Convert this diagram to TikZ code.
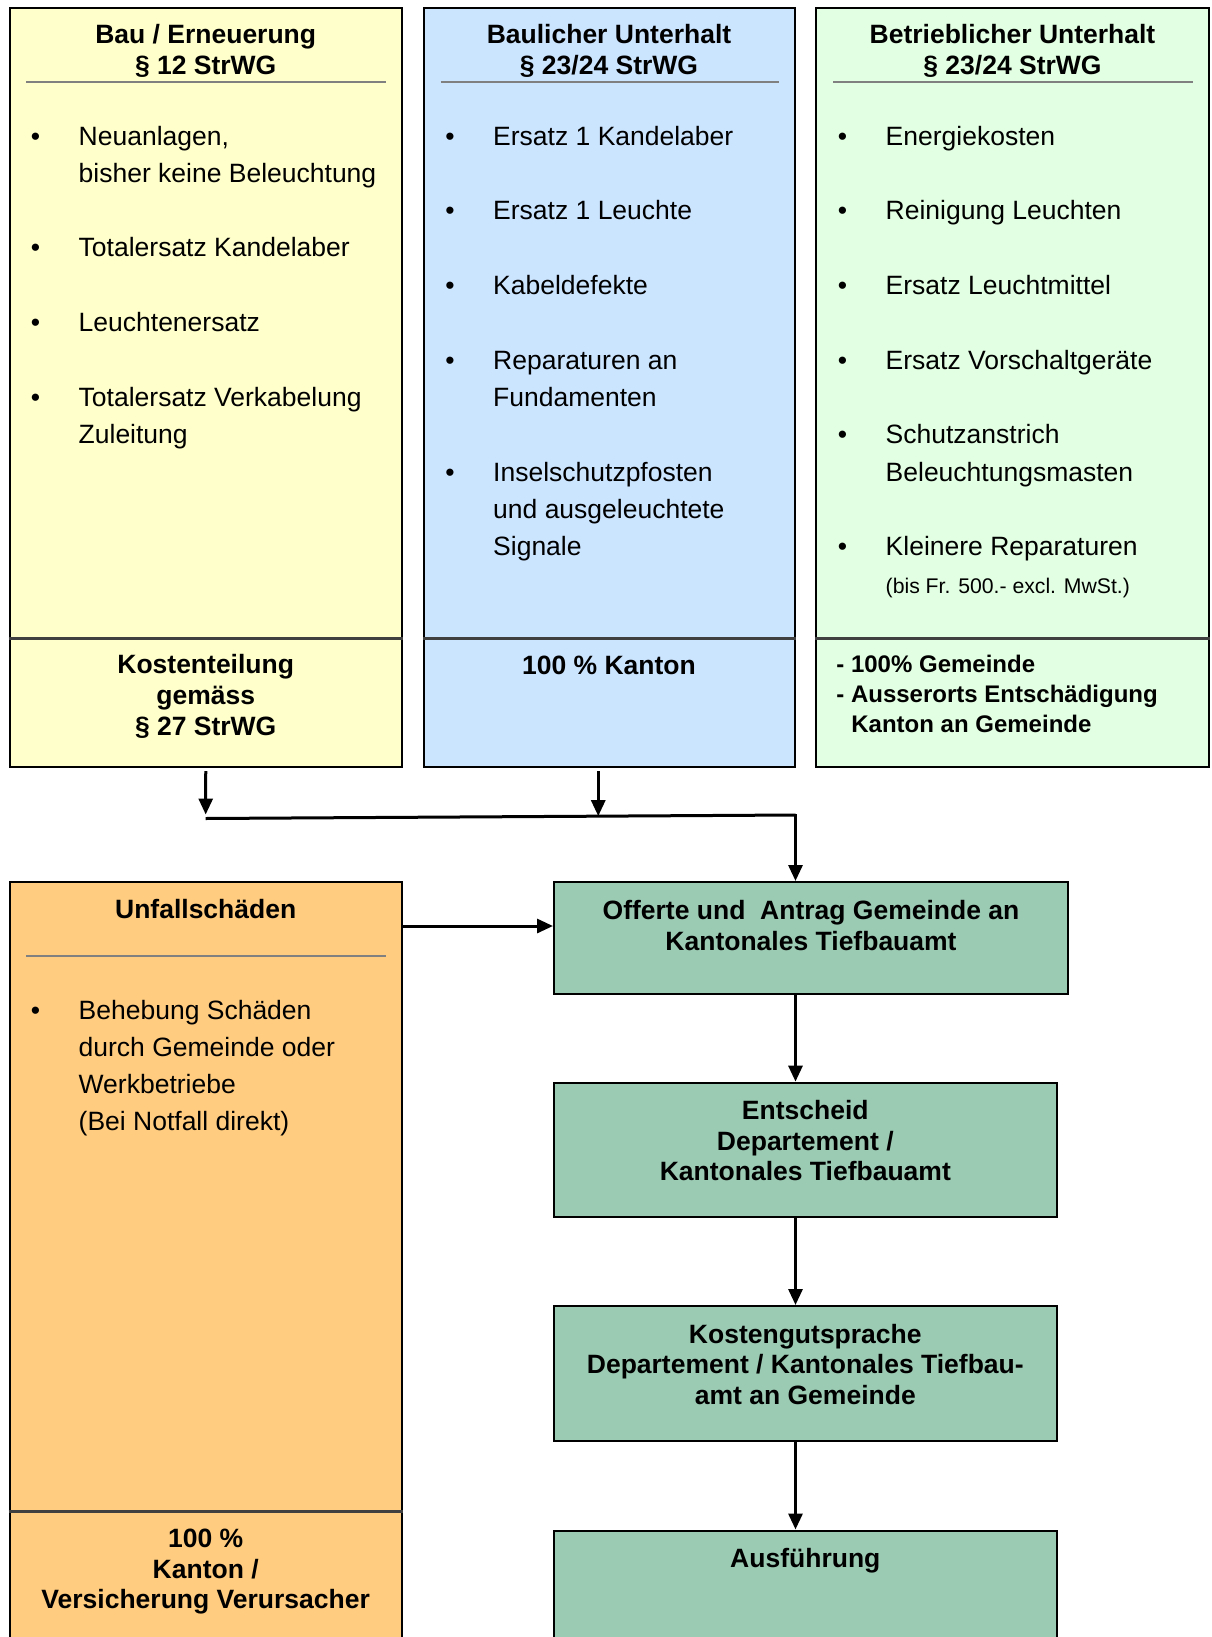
\documentclass[tikz,border=0pt]{standalone}
\usepackage{fontspec}
\setmainfont{Liberation Sans}
\usetikzlibrary{arrows.meta,fit}
\definecolor{cyel}{HTML}{FFFFCC}
\definecolor{cblu}{HTML}{CCE5FF}
\definecolor{cgrn}{HTML}{E3FFE3}
\definecolor{corg}{HTML}{FFCC80}
\definecolor{ctea}{HTML}{9CCBB4}
\tikzset{
  cbox/.style={draw=black, line width=1pt, inner sep=0pt},
  hd/.style={font=\bfseries\fontsize{13.25}{15.3}\selectfont, align=center, anchor=base, inner sep=0pt},
  hdl/.style={font=\bfseries\fontsize{12}{14.9}\selectfont, align=left, anchor=base west, inner sep=0pt},
  itm/.style={font=\fontsize{13.25}{18.6}\selectfont, align=left, anchor=base west, inner sep=0pt},
  smallitm/.style={font=\fontsize{10.6}{13}\selectfont, anchor=base west, inner sep=0pt},
  bul/.style={font=\fontsize{13.25}{18.6}\selectfont, anchor=base, inner sep=0pt},
  hrule/.style={draw=black!50, line width=1pt},
  seprule/.style={draw=black!75, line width=1.5pt},
  conn/.style={line width=1.5pt},
  arr/.style={conn, -{Triangle[width=7pt,length=8pt]}},
}
\begin{document}
% note: for multi-line nodes the base anchor is the LAST line's baseline
\begin{tikzpicture}[x=0.5pt,y=-0.5pt]
\useasboundingbox (0,0) rectangle (1211,1637);
\clip (0,0) rectangle (1211,1637);
% ---------- top columns ----------
\node[cbox, fill=cyel, fit={(9.5,8.5) (402,767)}] (bau) {};
\node[cbox, fill=cblu, fit={(424,8.5) (794.5,767)}] (bu) {};
\node[cbox, fill=cgrn, fit={(816,8.5) (1209,767)}] (be) {};
\draw[seprule] (bau.west |- 0,638) -- (bau.east |- 0,638);
\draw[seprule] (bu.west |- 0,638) -- (bu.east |- 0,638);
\draw[seprule] (be.west |- 0,638) -- (be.east |- 0,638);
\draw[hrule] (26,82.5) -- (386,82.5);
\draw[hrule] (440.5,82.5) -- (779,82.5);
\draw[hrule] (833,82.5) -- (1193,82.5);
% headings
\node[hd] (hbau) at (205.7,74.4) {Bau / Erneuerung\\§ 12 StrWG};
\node[hd] (hbu) at (609,74.4) {Baulicher Unterhalt\\§ 23/24 StrWG};
\node[hd] (hbe) at (1012.5,74.4) {Betrieblicher Unterhalt\\§ 23/24 StrWG};
% yellow items
\node[bul] (yb1) at (35.5,145.2) {•};
\node[itm] (yi1) at (78.3,182.4) {Neuanlagen,\\bisher keine Beleuchtung};
\node[bul] (yb2) at (35.5,256.9) {•};
\node[itm] (yi2) at (78.3,256.9) {Totalersatz Kandelaber};
\node[bul] (yb3) at (35.5,331) {•};
\node[itm] (yi3) at (78.3,331) {Leuchtenersatz};
\node[bul] (yb4) at (35.5,406.2) {•};
\node[itm] (yi4) at (78.3,443.4) {Totalersatz Verkabelung\\Zuleitung};
% blue items
\node[bul] (bb1) at (450,145.2) {•};
\node[itm] (bi1) at (492.8,145.2) {Ersatz 1 Kandelaber};
\node[bul] (bb2) at (450,219.3) {•};
\node[itm] (bi2) at (492.8,219.3) {Ersatz 1 Leuchte};
\node[bul] (bb3) at (450,294.5) {•};
\node[itm] (bi3) at (492.8,294.5) {Kabeldefekte};
\node[bul] (bb4) at (450,369.7) {•};
\node[itm] (bi4) at (492.8,406.9) {Reparaturen an\\Fundamenten};
\node[bul] (bb5) at (450,481.4) {•};
\node[itm] (bi5) at (492.8,555.8) {Inselschutzpfosten\\und ausgeleuchtete\\Signale};
% green items
\node[bul] (gb1) at (842.5,145.2) {•};
\node[itm] (gi1) at (885.3,145.2) {Energiekosten};
\node[bul] (gb2) at (842.5,219.3) {•};
\node[itm] (gi2) at (885.3,219.3) {Reinigung Leuchten};
\node[bul] (gb3) at (842.5,294.5) {•};
\node[itm] (gi3) at (885.3,294.5) {Ersatz Leuchtmittel};
\node[bul] (gb4) at (842.5,369.7) {•};
\node[itm] (gi4) at (885.3,369.7) {Ersatz Vorschaltgeräte};
\node[bul] (gb5) at (842.5,443.8) {•};
\node[itm] (gi5) at (885.3,481) {Schutzanstrich\\Beleuchtungsmasten};
\node[bul] (gb6) at (842.5,555.5) {•};
\node[itm] (gi6) at (885.3,555.5) {Kleinere Reparaturen};
\node[smallitm] (gi7) at (885.3,593) {(bis Fr. 500.- excl. MwSt.)};
% footers
\node[hd] (fbau) at (205.7,735) {Kostenteilung\\gemäss\\§ 27 StrWG};
\node[hd] (fbu) at (609,674.5) {100 \% Kanton};
\node[hdl] (fbe) at (836,732) {- 100\% Gemeinde\\- Ausserorts Entschädigung\\\hspace*{7.5pt}Kanton an Gemeinde};
% ---------- lower part ----------
\node[cbox, fill=corg, fit={(9.5,882) (402,1660)}] (unf) {};
\draw[seprule] (unf.west |- 0,1511.7) -- (unf.east |- 0,1511.7);
\draw[hrule] (26,956) -- (386,956);
\node[hd] (hunf) at (205.7,918) {Unfallschäden};
\node[bul] (ob1) at (35.5,1019) {•};
\node[itm] (oi1) at (78.3,1130.6) {Behebung Schäden\\durch Gemeinde oder\\Werkbetriebe\\(Bei Notfall direkt)};
\node[hd] (funf) at (205.7,1608.7) {100 \%\\Kanton /\\Versicherung Verursacher};

\node[cbox, fill=ctea, fit={(554,882) (1068,994)}] (off) {};
\node[cbox, fill=ctea, fit={(554,1082.6) (1056.5,1217)}] (ent) {};
\node[cbox, fill=ctea, fit={(554,1306) (1056.5,1440.7)}] (kost) {};
\node[cbox, fill=ctea, fit={(554,1530.5) (1056.5,1660)}] (aus) {};
\node[hd] (toff) at (811,950) {Offerte und~ Antrag Gemeinde an\\Kantonales Tiefbauamt};
\node[hd] (tent) at (805.3,1180.9) {Entscheid\\Departement /\\Kantonales Tiefbauamt};
\node[hd] (tkost) at (805.3,1404.3) {Kostengutsprache\\Departement / Kantonales Tiefbau-\\amt an Gemeinde};
\node[hd] (taus) at (805.3,1567.1) {Ausführung};

% ---------- connectors ----------
\coordinate (j1) at (205.7,818.5);
\coordinate (j2) at (795.5,815);
\coordinate (ay) at (0,926);
\draw[arr] ([yshift=-1.5pt]bau.south) -- ([yshift=2pt]j1);
\draw[arr] ([xshift=-5.5pt,yshift=-1.5pt]bu.south) -- ([xshift=-5.5pt,yshift=1.2pt]bu.south |- j1);
\draw[conn] (j1) -- (j2);
\draw[arr] ([xshift=-0.7pt]j2) -| (off.north -| j2);
\draw[arr] (unf.east |- ay) -- (off.west |- ay);
\draw[arr] (off.south -| j2) -- (ent.north -| j2);
\draw[arr] (ent.south -| j2) -- (kost.north -| j2);
\draw[arr] (kost.south -| j2) -- (aus.north -| j2);
\end{tikzpicture}
\end{document}
